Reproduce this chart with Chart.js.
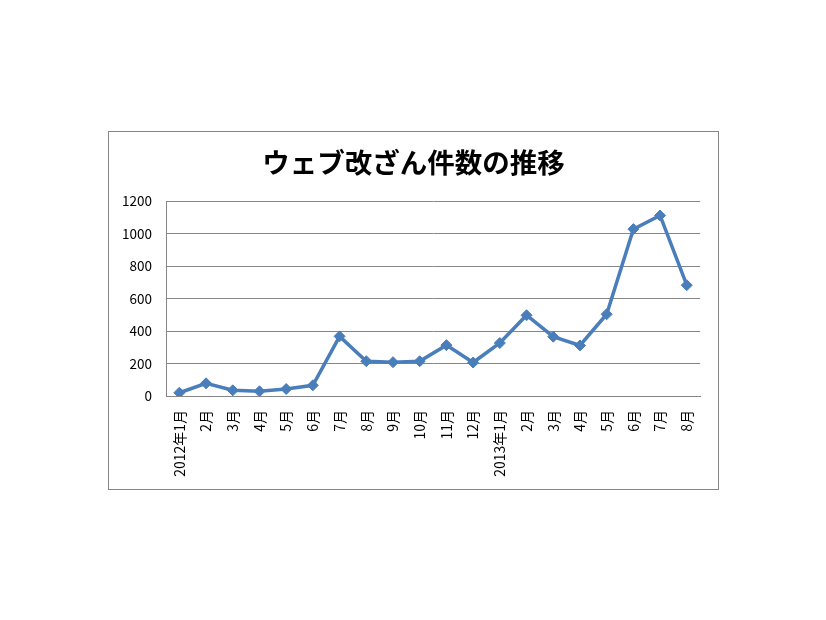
<!DOCTYPE html>
<html>
<head>
<meta charset="utf-8">
<script src="https://cdn.jsdelivr.net/npm/chart.js@4"></script>
<style>
  body { margin: 0; background: #fff; }
  #frame {
    position: absolute; left: 108px; top: 131px;
    width: 611px; height: 359px;
    border: 1px solid #868686; box-sizing: border-box;
  }
</style>
</head>
<body>
<div id="frame"><canvas id="chart"></canvas></div>
<script>
const months = ["2012年1月", "2月", "3月", "4月", "5月", "6月", "7月", "8月", "9月", "10月", "11月", "12月",
                "2013年1月", "2月", "3月", "4月", "5月", "6月", "7月", "8月"];
const counts = [20, 78, 35, 29, 43, 66, 367, 214, 208, 214, 313, 206,
                326, 497, 365, 311, 503, 1027, 1111, 682];
const yTicks = [0, 200, 400, 600, 800, 1000, 1200];

const ctx = document.getElementById("chart");

// center the title on the whole frame, not on the padded area
const centerTitle = {
    id: "centerTitle",
    afterLayout(chart) {
        const t = chart.titleBlock;
        if (!t) return;
        t.left = 0;
        t.right = chart.width;
        t.width = chart.width;
    }
};

new Chart(ctx, {
    type: "line",
    data: {
        labels: months,
        datasets: [{
            label: "件数",
            data: counts,
            borderColor: "#4a7ebb",
            backgroundColor: "#4a7ebb",
            borderWidth: 3.5,
            pointStyle: "rectRot",
            pointRadius: 5.5,
            pointHoverRadius: 5.5,
            pointBorderWidth: 1,
            tension: 0
        }]
    },
    options: {
        responsive: true,
        maintainAspectRatio: false,
        animation: false,
        layout: { padding: { left: 0, right: 17, top: 0, bottom: 0 } },
        plugins: {
            legend: { display: false },
            tooltip: { enabled: false },
            title: {
                display: true,
                text: "ウェブ改ざん件数の推移",
                color: "#000",
                font: { family: "'Noto Sans CJK JP'", size: 27.5, weight: "bold", lineHeight: 1.2 },
                padding: { top: 14, bottom: 22 }
            }
        },
        scales: {
            x: {
                offset: true,
                grid: { display: false, drawTicks: false },
                border: { display: true, color: "#868686", width: 1 },
                ticks: {
                    autoSkip: false,
                    maxRotation: 90,
                    minRotation: 90,
                    padding: 14,
                    color: "#000",
                    font: { family: "'Noto Sans CJK JP'", size: 14 }
                },
                afterFit: s => { s.height = 93; }
            },
            y: {
                min: 0,
                max: 1200,
                afterBuildTicks: s => { s.ticks = yTicks.map(v => ({ value: v })); },
                grid: { color: "#868686", drawTicks: false },
                border: { display: true, color: "#868686", width: 1 },
                ticks: {
                    padding: 14,
                    color: "#000",
                    font: { family: "'Noto Sans CJK JP'", size: 13.5 },
                    callback: v => String(v)
                },
                afterFit: s => { s.width = 57; }
            }
        }
    },
    plugins: [centerTitle]
});
</script>
</body>
</html>
